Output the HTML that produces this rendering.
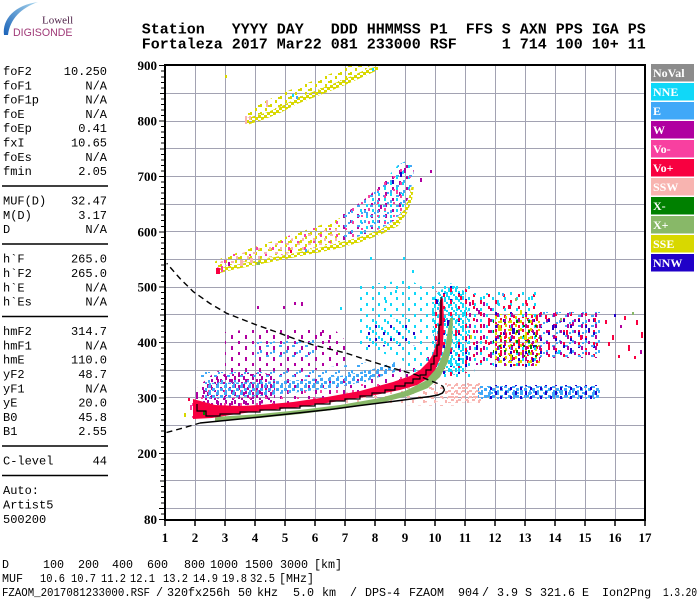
<!DOCTYPE html>
<html><head><meta charset="utf-8"><style>
html,body{margin:0;padding:0;background:#fff;width:700px;height:600px;overflow:hidden}
svg{position:absolute;left:0;top:0}
.h{font-family:"Liberation Mono",monospace;font-size:15px;font-weight:bold}
.p{font-family:"Liberation Mono",monospace;font-size:12px}
.b{font-family:"Liberation Mono",monospace;font-size:11.7px}
.ax{font-family:"Liberation Serif",serif;font-weight:bold;font-size:13px}
.lg{font-family:"Liberation Serif",serif;font-weight:bold;font-size:12px;fill:#fff}
</style></head><body>
<svg width="700" height="600" viewBox="0 0 700 600" xmlns="http://www.w3.org/2000/svg">
<defs>
<linearGradient id="arc" x1="0" y1="1" x2="1" y2="0"><stop offset="0" stop-color="#1a62b8"/><stop offset="1" stop-color="#a8d6ee"/></linearGradient>
<pattern id="yd" width="6" height="5" patternUnits="userSpaceOnUse"><g fill="#d8d800"><rect width="3" height="3"/><rect x="3" y="2" width="3" height="3"/></g></pattern>
<pattern id="ys" width="10" height="8" patternUnits="userSpaceOnUse"><g fill="#d8d800"><rect width="2" height="3"/><rect x="5" y="4" width="2" height="3"/><rect x="8" y="1" width="2" height="2"/></g></pattern>
<pattern id="mg" width="9" height="8" patternUnits="userSpaceOnUse"><g fill="#b000a0"><rect width="2" height="4"/><rect x="4" y="3" width="2" height="3"/><rect x="7" y="6" width="2" height="2"/></g></pattern>
<pattern id="mgs" width="14" height="11" patternUnits="userSpaceOnUse"><g fill="#b000a0"><rect width="2" height="3"/><rect x="7" y="5" width="2" height="4"/></g></pattern>
<pattern id="bl" width="8" height="7" patternUnits="userSpaceOnUse"><g fill="#40a8f8"><rect width="3" height="3"/><rect x="4" y="3" width="3" height="3"/><rect x="1" y="5" width="2" height="2"/></g></pattern>
<pattern id="bls" width="13" height="10" patternUnits="userSpaceOnUse"><g fill="#40a8f8"><rect width="2" height="3"/><rect x="6" y="5" width="3" height="2"/><rect x="10" y="2" width="2" height="2"/></g></pattern>
<pattern id="cy" width="7" height="8" patternUnits="userSpaceOnUse"><g fill="#10d8f8"><rect width="2" height="4"/><rect x="3" y="3" width="2" height="3"/><rect x="5" y="6" width="2" height="2"/></g></pattern>
<pattern id="cys" width="12" height="11" patternUnits="userSpaceOnUse"><g fill="#10d8f8"><rect width="2" height="3"/><rect x="6" y="6" width="2" height="3"/></g></pattern>
<pattern id="sa" width="7" height="6" patternUnits="userSpaceOnUse"><g fill="#f8b4b0"><rect width="3" height="2"/><rect x="3" y="3" width="3" height="2"/><rect x="6" y="1" width="1" height="2"/></g></pattern>
<pattern id="sas" width="11" height="9" patternUnits="userSpaceOnUse"><g fill="#f8b4b0"><rect width="3" height="2"/><rect x="5" y="4" width="2" height="3"/></g></pattern>
<pattern id="nv" width="10" height="9" patternUnits="userSpaceOnUse"><g fill="#2000c8"><rect width="2" height="3"/><rect x="5" y="4" width="2" height="4"/></g></pattern>
<pattern id="nvs" width="15" height="13" patternUnits="userSpaceOnUse"><g fill="#2000c8"><rect width="2" height="3"/><rect x="8" y="7" width="2" height="3"/></g></pattern>
<pattern id="pk" width="10" height="8" patternUnits="userSpaceOnUse"><g fill="#f840a0"><rect width="2" height="3"/><rect x="6" y="4" width="2" height="2"/></g></pattern>
<pattern id="pks" width="16" height="13" patternUnits="userSpaceOnUse"><g fill="#f840a0"><rect width="2" height="3"/><rect x="9" y="7" width="2" height="2"/></g></pattern>
<pattern id="rs" width="9" height="7" patternUnits="userSpaceOnUse"><g fill="#f80040"><rect width="2" height="3"/><rect x="5" y="3" width="2" height="3"/></g></pattern>
<pattern id="rss" width="15" height="12" patternUnits="userSpaceOnUse"><g fill="#f80040"><rect width="2" height="4"/><rect x="8" y="6" width="2" height="3"/></g></pattern>
<pattern id="gn" width="12" height="10" patternUnits="userSpaceOnUse"><g fill="#008000"><rect width="2" height="3"/><rect x="7" y="5" width="2" height="2"/></g></pattern>
</defs>

<!-- logo -->
<path d="M4,35 C2,19 15,5 38,2 C21,8 10,19 8,35 Z" fill="url(#arc)"/>
<text x="42" y="23.5" style="font-family:'Liberation Serif',serif;font-size:11px;fill:#4b1d45">Lowell</text>
<text x="13" y="36" style="font-family:'Liberation Sans',sans-serif;font-size:10.6px;fill:#a03a78">DIGISONDE</text>

<!-- header -->
<g class="h">
<text x="141.7" y="33.3">Station</text><text x="231.7" y="33.3">YYYY</text><text x="276.7" y="33.3">DAY</text><text x="330.7" y="33.3">DDD</text><text x="366.7" y="33.3">HHMMSS</text><text x="429.7" y="33.3">P1</text><text x="465.7" y="33.3">FFS</text><text x="501.7" y="33.3">S</text><text x="519.7" y="33.3">AXN</text><text x="555.7" y="33.3">PPS</text><text x="591.7" y="33.3">IGA</text><text x="627.7" y="33.3">PS</text>
<text x="141.7" y="48.7">Fortaleza</text><text x="231.7" y="48.7">2017</text><text x="276.7" y="48.7">Mar22</text><text x="330.7" y="48.7">081</text><text x="366.7" y="48.7">233000</text><text x="429.7" y="48.7">RSF</text><text x="501.7" y="48.7">1</text><text x="519.7" y="48.7">714</text><text x="555.7" y="48.7">100</text><text x="591.7" y="48.7">10+</text><text x="627.7" y="48.7">11</text>
</g>

<!-- left panel -->
<g class="p">
<text x="3" y="75">foF2</text><text x="107" y="75" text-anchor="end">10.250</text>
<text x="3" y="89.3">foF1</text><text x="107" y="89.3" text-anchor="end">N/A</text>
<text x="3" y="103.6">foF1p</text><text x="107" y="103.6" text-anchor="end">N/A</text>
<text x="3" y="117.9">foE</text><text x="107" y="117.9" text-anchor="end">N/A</text>
<text x="3" y="132.2">foEp</text><text x="107" y="132.2" text-anchor="end">0.41</text>
<text x="3" y="146.5">fxI</text><text x="107" y="146.5" text-anchor="end">10.65</text>
<text x="3" y="160.8">foEs</text><text x="107" y="160.8" text-anchor="end">N/A</text>
<text x="3" y="175.1">fmin</text><text x="107" y="175.1" text-anchor="end">2.05</text>
<text x="3" y="204.6">MUF(D)</text><text x="107" y="204.6" text-anchor="end">32.47</text>
<text x="3" y="218.9">M(D)</text><text x="107" y="218.9" text-anchor="end">3.17</text>
<text x="3" y="233.2">D</text><text x="107" y="233.2" text-anchor="end">N/A</text>
<text x="3" y="262.7">h`F</text><text x="107" y="262.7" text-anchor="end">265.0</text>
<text x="3" y="277">h`F2</text><text x="107" y="277" text-anchor="end">265.0</text>
<text x="3" y="291.3">h`E</text><text x="107" y="291.3" text-anchor="end">N/A</text>
<text x="3" y="305.6">h`Es</text><text x="107" y="305.6" text-anchor="end">N/A</text>
<text x="3" y="335.1">hmF2</text><text x="107" y="335.1" text-anchor="end">314.7</text>
<text x="3" y="349.4">hmF1</text><text x="107" y="349.4" text-anchor="end">N/A</text>
<text x="3" y="363.7">hmE</text><text x="107" y="363.7" text-anchor="end">110.0</text>
<text x="3" y="378">yF2</text><text x="107" y="378" text-anchor="end">48.7</text>
<text x="3" y="392.3">yF1</text><text x="107" y="392.3" text-anchor="end">N/A</text>
<text x="3" y="406.6">yE</text><text x="107" y="406.6" text-anchor="end">20.0</text>
<text x="3" y="420.9">B0</text><text x="107" y="420.9" text-anchor="end">45.8</text>
<text x="3" y="435.2">B1</text><text x="107" y="435.2" text-anchor="end">2.55</text>
<text x="3" y="464.7">C-level</text><text x="107" y="464.7" text-anchor="end">44</text>
<text x="3" y="494.2">Auto:</text>
<text x="3" y="508.5">Artist5</text>
<text x="3" y="522.8">500200</text>
</g>
<g stroke="#000" stroke-width="1.5">
<line x1="2" y1="186" x2="108" y2="186"/>
<line x1="2" y1="244" x2="108" y2="244"/>
<line x1="2" y1="316.5" x2="108" y2="316.5"/>
<line x1="2" y1="446" x2="108" y2="446"/>
<line x1="2" y1="475.5" x2="108" y2="475.5"/>
</g>

<!-- grid -->
<g stroke="#a2a2b2" stroke-width="1" shape-rendering="crispEdges">
<path d="M195.5,66V519 M225.5,66V519 M255.5,66V519 M285.5,66V519 M315.5,66V519 M345.5,66V519 M375.5,66V519 M405.5,66V519 M435.5,66V519 M465.5,66V519 M495.5,66V519 M525.5,66V519 M555.5,66V519 M585.5,66V519 M615.5,66V519"/>
<path d="M166,93.5H644 M166,121.5H644 M166,148.5H644 M166,176.5H644 M166,204.5H644 M166,231.5H644 M166,259.5H644 M166,287.5H644 M166,314.5H644 M166,342.5H644 M166,370.5H644 M166,397.5H644 M166,425.5H644 M166,453.5H644 M166,480.5H644 M166,508.5H644"/>
</g>

<!-- 3rd hop -->
<polygon fill="url(#ys)" points="247,118 265,113 280,107 297,98 320,89 345,79 365,70 370,66 348,66 330,74 310,82 290,90 270,99 255,106 247,110"/>
<polygon fill="url(#yd)" points="247,118 265,113 280,107 297,98 320,89 345,79 365,70 378,66 378,70 365,76 345,85 320,95 297,104 280,113 265,119 247,125"/>
<g>
<rect x="245" y="116" width="2" height="8" fill="#f8b4b0"/><rect x="249" y="116" width="2" height="4" fill="#f8b4b0"/><rect x="266" y="100" width="2" height="7" fill="#f8b4b0"/><rect x="292" y="94" width="2" height="3" fill="#10d8f8"/><rect x="296" y="96" width="2" height="3" fill="#40a8f8"/><rect x="225" y="75" width="2" height="3" fill="#d8d800"/><rect x="372" y="68" width="2" height="3" fill="#10d8f8"/>
</g>

<!-- 2nd hop -->
<polygon fill="url(#ys)" points="216,268 235,264 260,259 285,254 310,249 335,243 340,242 340,218 330,222 300,232 270,242 245,250 222,258 214,262"/>
<polygon fill="url(#sas)" points="216,268 235,264 260,259 285,254 310,249 335,243 340,242 340,226 300,236 270,245 245,252 222,260"/>
<polygon fill="url(#pks)" points="216,268 235,264 260,259 285,254 310,249 335,243 340,242 340,220 300,232 270,242 245,250 222,258"/>
<polygon fill="url(#mgs)" points="340,242 360,236 380,229 395,220 404,209 409,196 412,184 414,168 408,160 398,165 385,180 370,195 350,210 340,216"/>
<polygon fill="url(#bls)" points="340,242 360,236 380,229 395,220 404,209 409,196 412,184 414,168 408,160 398,165 385,180 370,195 350,210 340,216"/>
<polygon fill="url(#cys)" points="360,236 380,229 395,220 404,209 409,196 412,184 414,168 408,160 398,165 385,180 370,195 360,205"/>
<polygon fill="url(#pks)" points="340,242 380,229 404,209 412,184 408,162 385,180 350,210"/>
<polygon fill="url(#yd)" points="216,269 235,265 260,260 285,255 310,250 335,244 360,237 380,230 395,221 404,210 409,197 412,185 414,186 412,200 407,213 398,226 382,234 361,242 336,249 311,254 286,259 261,264 236,269 216,274"/>
<g>
<rect x="216" y="268" width="4" height="6" fill="#f80040"/><rect x="221" y="266" width="2" height="6" fill="#f840a0"/><rect x="240" y="260" width="3" height="6" fill="#f8b4b0"/><rect x="250" y="258" width="3" height="5" fill="#f8b4b0"/><rect x="257" y="262" width="3" height="3" fill="#88b868"/><rect x="228" y="262" width="2" height="4" fill="#b000a0"/><rect x="290" y="250" width="2" height="3" fill="#f80040"/><rect x="305" y="249" width="2" height="3" fill="#40a8f8"/><rect x="420" y="178" width="2" height="4" fill="#b000a0"/><rect x="430" y="170" width="2" height="3" fill="#b000a0"/><rect x="400" y="172" width="2" height="5" fill="#2000c8"/><rect x="392" y="180" width="2" height="4" fill="#2000c8"/><rect x="404" y="168" width="2" height="5" fill="#b000a0"/><rect x="396" y="190" width="2" height="4" fill="#f840a0"/><rect x="380" y="205" width="2" height="4" fill="#b000a0"/><rect x="366" y="212" width="2" height="4" fill="#40a8f8"/>
</g>

<!-- magenta near trace -->
<polygon fill="url(#mgs)" points="192,395 200,385 215,372 240,365 270,368 300,374 330,378 360,378 390,372 420,362 432,352 436,370 425,382 400,388 370,395 340,400 300,405 260,409 230,413 205,418 192,418"/>
<polygon fill="url(#mg)" points="200,388 215,376 240,372 275,374 275,402 240,406 205,412"/>
<polygon fill="url(#pks)" points="192,395 215,380 260,385 320,385 380,382 420,372 420,386 360,396 300,404 240,410 192,418"/>
<!-- mid cluster -->
<polygon fill="url(#mgs)" points="225,332 260,328 300,330 335,330 350,345 345,366 300,372 260,370 225,372"/>
<polygon fill="url(#bls)" points="255,342 315,340 318,358 255,360"/>
<g>
<rect x="257" y="306" width="2" height="3" fill="#b000a0"/><rect x="283" y="306" width="2" height="3" fill="#b000a0"/><rect x="294" y="302" width="2" height="3" fill="#b000a0"/><rect x="301" y="302" width="2" height="4" fill="#b000a0"/><rect x="340" y="307" width="2" height="3" fill="#10d8f8"/><rect x="320" y="332" width="2" height="4" fill="#b000a0"/><rect x="328" y="340" width="2" height="3" fill="#b000a0"/>
</g>
<!-- E band -->
<polygon fill="url(#bl)" points="205,383 260,382 300,380 340,376 370,370 395,362 395,372 370,380 340,387 300,392 260,396 205,399"/>
<polygon fill="url(#bls)" points="200,372 260,372 300,370 340,366 370,362 370,370 340,376 300,380 260,382 200,383"/>
<rect x="360" y="371" width="12" height="11" fill="url(#bls)"/>

<!-- cyan sparse region -->
<polygon fill="url(#cys)" points="358,285 410,280 428,290 430,355 415,360 395,356 375,352 360,350"/>
<polygon fill="url(#cys)" points="366,318 405,316 408,345 366,346" transform="translate(3,2)"/>
<polygon fill="url(#cys)" points="400,292 416,292 434,300 434,370 414,372 402,360"/>
<polygon fill="url(#nvs)" points="368,325 420,322 420,345 368,347"/>
<g>
<rect x="370" y="257" width="2" height="3" fill="#10d8f8"/><rect x="403" y="257" width="2" height="3" fill="#10d8f8"/><rect x="395" y="290" width="2" height="3" fill="#10d8f8"/><rect x="385" y="300" width="2" height="3" fill="#10d8f8"/><rect x="412" y="270" width="2" height="3" fill="#10d8f8"/>
</g>

<!-- salmon -->
<polygon fill="url(#sas)" points="338,393 380,390 420,385 445,383 480,383 482,404 445,406 400,405 360,404 338,402"/>
<polygon fill="url(#sa)" points="447,384 481,384 481,402 447,403"/>
<polygon fill="url(#sas)" points="418,388 440,386 442,400 418,402" transform="translate(2,1)"/>

<!-- spread-F cluster -->
<polygon fill="url(#cy)" points="432,300 440,290 455,286 466,292 469,330 467,370 455,375 441,372 434,360"/>
<polygon fill="url(#cys)" points="425,290 440,282 470,286 476,320 474,378 430,380"/>
<polygon fill="url(#nvs)" points="430,298 440,288 455,284 468,290 471,330 469,372 455,377 440,374 432,360"/>
<polygon fill="url(#rss)" points="430,298 440,288 455,284 468,290 471,330 469,372 455,377 440,374 432,360"/>
<g>
<rect x="432" y="310" width="2" height="6" fill="#10d8f8"/><rect x="436" y="300" width="2" height="4" fill="#2000c8"/><rect x="446" y="292" width="2" height="5" fill="#10d8f8"/><rect x="452" y="286" width="2" height="3" fill="#10d8f8"/><rect x="460" y="296" width="2" height="4" fill="#f80040"/><rect x="464" y="310" width="2" height="6" fill="#10d8f8"/><rect x="447" y="320" width="3" height="6" fill="#2000c8"/><rect x="455" y="330" width="2" height="6" fill="#f80040"/><rect x="462" y="345" width="2" height="6" fill="#10d8f8"/><rect x="440" y="350" width="2" height="5" fill="#b000a0"/><rect x="450" y="360" width="2" height="6" fill="#10d8f8"/><rect x="458" y="368" width="2" height="4" fill="#10d8f8"/><rect x="466" y="356" width="2" height="4" fill="#2000c8"/>
</g>

<!-- right scatter -->
<polygon fill="url(#rss)" points="467,293 493,293 493,365 467,365"/>
<polygon fill="url(#mgs)" points="467,300 493,300 493,365 467,365"/>
<polygon fill="url(#cys)" points="467,293 493,293 493,365 467,365"/>
<polygon fill="url(#rss)" points="493,292 540,292 540,312 493,312"/>
<polygon fill="url(#cys)" points="493,292 540,292 540,312 493,312"/>
<polygon fill="url(#rs)" points="493,314 540,314 540,366 493,366"/>
<polygon fill="url(#ys)" points="493,314 540,314 540,366 493,366"/>
<polygon fill="url(#nvs)" points="493,312 540,312 540,368 493,368"/>
<polygon fill="url(#cys)" points="493,312 540,312 540,368 493,368"/>
<polygon fill="url(#gn)" points="493,318 540,318 540,360 493,360"/>
<polygon fill="url(#mgs)" points="493,312 540,312 540,368 493,368"/>
<polygon fill="url(#rss)" points="540,310 600,310 600,360 540,360"/>
<polygon fill="url(#nvs)" points="540,315 600,315 600,355 540,355"/>
<polygon fill="url(#bls)" points="540,312 600,312 600,358 540,358"/>
<polygon fill="url(#mgs)" points="540,312 600,312 600,358 540,358"/>
<g>
<rect x="472" y="300" width="2" height="5" fill="#f80040"/><rect x="478" y="310" width="2" height="4" fill="#b000a0"/><rect x="483" y="296" width="2" height="3" fill="#10d8f8"/><rect x="488" y="320" width="2" height="6" fill="#f80040"/><rect x="470" y="335" width="2" height="4" fill="#d8d800"/><rect x="476" y="345" width="2" height="5" fill="#2000c8"/><rect x="485" y="340" width="2" height="4" fill="#f80040"/><rect x="490" y="355" width="2" height="3" fill="#b000a0"/>
<rect x="497" y="300" width="2" height="5" fill="#10d8f8"/><rect x="502" y="293" width="2" height="3" fill="#40a8f8"/><rect x="508" y="305" width="3" height="4" fill="#f80040"/><rect x="515" y="298" width="2" height="3" fill="#88b868"/><rect x="520" y="310" width="2" height="5" fill="#d8d800"/><rect x="526" y="303" width="2" height="3" fill="#f80040"/><rect x="531" y="296" width="2" height="4" fill="#10d8f8"/><rect x="536" y="315" width="2" height="4" fill="#f80040"/>
<rect x="498" y="325" width="3" height="6" fill="#d8d800"/><rect x="505" y="333" width="2" height="5" fill="#f80040"/><rect x="512" y="328" width="3" height="6" fill="#2000c8"/><rect x="518" y="340" width="2" height="6" fill="#f80040"/><rect x="524" y="335" width="3" height="5" fill="#d8d800"/><rect x="530" y="345" width="2" height="4" fill="#008000"/><rect x="536" y="330" width="2" height="5" fill="#f80040"/><rect x="500" y="350" width="2" height="6" fill="#f80040"/><rect x="510" y="355" width="2" height="5" fill="#d8d800"/><rect x="522" y="352" width="2" height="6" fill="#b000a0"/><rect x="532" y="358" width="2" height="4" fill="#2000c8"/>
<rect x="545" y="315" width="2" height="4" fill="#f80040"/><rect x="552" y="325" width="2" height="5" fill="#2000c8"/><rect x="560" y="318" width="2" height="3" fill="#88b868"/><rect x="566" y="330" width="2" height="5" fill="#f80040"/><rect x="572" y="322" width="2" height="4" fill="#b000a0"/><rect x="580" y="335" width="2" height="5" fill="#f80040"/><rect x="588" y="328" width="2" height="4" fill="#2000c8"/><rect x="594" y="318" width="2" height="4" fill="#f80040"/><rect x="548" y="345" width="2" height="5" fill="#f80040"/><rect x="558" y="350" width="2" height="4" fill="#10d8f8"/><rect x="570" y="348" width="2" height="5" fill="#2000c8"/><rect x="585" y="352" width="2" height="3" fill="#f80040"/><rect x="596" y="343" width="2" height="3" fill="#f80040"/>
<rect x="605" y="320" width="2" height="4" fill="#f80040"/><rect x="612" y="335" width="2" height="5" fill="#f80040"/><rect x="620" y="325" width="2" height="3" fill="#b000a0"/><rect x="628" y="345" width="2" height="6" fill="#f80040"/><rect x="636" y="320" width="2" height="5" fill="#f80040"/><rect x="641" y="332" width="2" height="6" fill="#f80040"/><rect x="640" y="350" width="2" height="4" fill="#b000a0"/><rect x="618" y="355" width="2" height="3" fill="#f80040"/><rect x="632" y="312" width="2" height="3" fill="#88b868"/><rect x="608" y="342" width="2" height="4" fill="#f80040"/><rect x="624" y="316" width="2" height="4" fill="#f80040"/><rect x="634" y="356" width="2" height="3" fill="#f80040"/><rect x="614" y="314" width="2" height="3" fill="#2000c8"/><rect x="644" y="322" width="1" height="4" fill="#f80040"/>
</g>

<!-- bottom E band f 11.5-15.3 -->
<polygon fill="url(#bl)" points="478,386 600,386 600,399 478,399"/>
<polygon fill="url(#bls)" points="478,386 600,386 600,399 478,399"/>
<polygon fill="url(#nv)" points="490,385 600,385 600,400 490,400"/>

<!-- X+ band -->
<polygon fill="#88b868" points="215,417 260,414 300,410 340,405 380,398 405,391 425,381 438,366 445,348 448,330 450,318 453,318 452,342 448,362 440,377 428,388 408,396 380,403 340,409 300,414 260,418 215,421"/>
<!-- Vo+ red band -->
<polygon fill="#f80040" points="193,399 215,405 240,406 260,405 293,402 327,397 360,391 393,382 410,376 420,370 428,362 433,354 437,341 439,320 440,300 443,298 444,320 443,345 440,359 435,370 427,379 417,385 400,390 370,396 340,401 300,407 260,411 230,415 212,418 193,419"/>
<g>
<rect x="184" y="413" width="2" height="4" fill="#d8d800"/><rect x="203" y="411" width="2" height="4" fill="#008000"/><rect x="190" y="405" width="2" height="5" fill="#f840a0"/><rect x="196" y="392" width="2" height="5" fill="#b000a0"/><rect x="188" y="398" width="2" height="3" fill="#f80040"/>
</g>

<!-- black trace -->
<path d="M197,404 L197,411 L206,411 L206,416 L220,416 L220,414 L240,414 L240,412 L260,412 L260,410 L280,410 L280,408 L300,408 L300,406 L315,406 L315,404 L330,404 L330,401 L345,401 L345,399 L360,399 L360,396 L372,396 L372,393 L385,393 L385,390 L395,390 L395,386 L405,386 L405,383 L413,383 L413,379 L420,379 L420,375 L426,375 L426,370 L431,370 L431,364 L434,364 L434,356 L437,356 L437,345 L439,345 L439,325 L441,325 L441,297" fill="none" stroke="#000" stroke-width="1.2"/>

<!-- profile curves -->
<polyline points="200,423 230,420 260,417 293,413.5 330,409.5 360,405.5 400,400.5 420,397.8 430,396.5 438,395 442.5,393 444.5,390" fill="none" stroke="#000" stroke-width="1.5"/>
<polyline points="444.5,390 443,386.5 439,384 430,380.5 416.7,375 393.3,368.3 370,361 346.7,353.3 313.3,345 293.3,338.3 275,331.5 256.7,325 226.7,313.3 210,303.5 193.3,291.7 180,278.5 166.7,263.3" fill="none" stroke="#000" stroke-width="1.4" stroke-dasharray="6,4"/>
<polyline points="166.5,432.5 183,428 200,423" fill="none" stroke="#000" stroke-width="1.4" stroke-dasharray="6,4"/>

<!-- frame & axes -->
<rect x="165" y="65" width="480" height="455" fill="none" stroke="#000" stroke-width="2"/>
<path stroke="#000" stroke-width="1" fill="none" shape-rendering="crispEdges" d="M159,65.5h6 M161,71h4 M161,77h4 M161,82.5h4 M161,88h4 M160,93.5h5 M161,99h4 M161,104.5h4 M161,110h4 M161,115.5h4 M159,121h6 M161,126.5h4 M161,132h4 M161,137.5h4 M161,143h4 M160,149h5 M161,154.5h4 M161,160h4 M161,165.5h4 M161,171h4 M159,176.5h6 M161,182h4 M161,187.5h4 M161,193h4 M161,198.5h4 M160,204h5 M161,209.5h4 M161,215h4 M161,220.5h4 M161,226.5h4 M159,232h6 M161,237.5h4 M161,243h4 M161,248.5h4 M161,254h4 M160,259.5h5 M161,265h4 M161,270.5h4 M161,276h4 M161,281.5h4 M159,287h6 M161,292.5h4 M161,298.5h4 M161,304h4 M161,309.5h4 M160,315h5 M161,320.5h4 M161,326h4 M161,331.5h4 M161,337h4 M159,342.5h6 M161,348h4 M161,353.5h4 M161,359h4 M161,364.5h4 M160,370h5 M161,376h4 M161,381.5h4 M161,387h4 M161,392.5h4 M159,398h6 M161,403.5h4 M161,409h4 M161,414.5h4 M161,420h4 M160,425.5h5 M161,431h4 M161,436.5h4 M161,442h4 M161,447.5h4 M159,453.5h6 M161,459h4 M161,464.5h4 M161,470h4 M161,475.5h4 M160,481h5 M161,486.5h4 M161,492h4 M161,497.5h4 M161,503h4 M159,508.5h6 M161,514h4 M159,519.5h6"/>
<path stroke="#000" stroke-width="1.5" d="M165,520v6 M195,520v6 M225,520v6 M255,520v6 M285,520v6 M315,520v6 M345,520v6 M375,520v6 M405,520v6 M435,520v6 M465,520v6 M495,520v6 M525,520v6 M555,520v6 M585,520v6 M615,520v6 M645,520v6"/>

<g class="ax" text-anchor="end">
<text x="157" y="70.2">900</text><text x="157" y="125.5">800</text><text x="157" y="180.9">700</text><text x="157" y="236.3">600</text><text x="157" y="291.7">500</text><text x="157" y="347">400</text><text x="157" y="402.4">300</text><text x="157" y="457.8">200</text><text x="157" y="524.2">80</text>
</g>
<g class="ax" text-anchor="middle">
<text x="165" y="542">1</text><text x="195" y="542">2</text><text x="225" y="542">3</text><text x="255" y="542">4</text><text x="285" y="542">5</text><text x="315" y="542">6</text><text x="345" y="542">7</text><text x="375" y="542">8</text><text x="405" y="542">9</text><text x="435" y="542">10</text><text x="465" y="542">11</text><text x="495" y="542">12</text><text x="525" y="542">13</text><text x="555" y="542">14</text><text x="585" y="542">15</text><text x="615" y="542">16</text><text x="645" y="542">17</text>
</g>

<!-- legend -->
<g>
<rect x="651" y="64" width="43" height="17.5" fill="#8c8c8c"/>
<rect x="651" y="83" width="43" height="17.5" fill="#10d8f8"/>
<rect x="651" y="102" width="43" height="17.5" fill="#40a8f8"/>
<rect x="651" y="121" width="43" height="17.5" fill="#b000a0"/>
<rect x="651" y="140" width="43" height="17.5" fill="#f840a0"/>
<rect x="651" y="159" width="43" height="17.5" fill="#f80040"/>
<rect x="651" y="178" width="43" height="17.5" fill="#f8b4b0"/>
<rect x="651" y="197" width="43" height="17.5" fill="#008000"/>
<rect x="651" y="216" width="43" height="17.5" fill="#88b868"/>
<rect x="651" y="235" width="43" height="17.5" fill="#d8d800"/>
<rect x="651" y="254" width="43" height="17.5" fill="#2000c8"/>
</g>
<g class="lg">
<text x="653" y="77">NoVal</text><text x="653" y="96">NNE</text><text x="653" y="115">E</text><text x="653" y="134">W</text><text x="653" y="153">Vo-</text><text x="653" y="172">Vo+</text><text x="653" y="191">SSW</text><text x="653" y="210">X-</text><text x="653" y="229">X+</text><text x="653" y="248">SSE</text><text x="653" y="267">NNW</text>
</g>

<!-- bottom text -->
<g class="b">
<text x="2" y="568">D</text><text x="43" y="568">100</text><text x="78" y="568">200</text><text x="112" y="568">400</text><text x="147" y="568">600</text><text x="184" y="568">800</text><text x="210" y="568">1000</text><text x="245" y="568">1500</text><text x="280" y="568">3000</text><text x="314" y="568">[km]</text>
<text x="2" y="582">MUF</text><text x="40" y="582" textLength="25" lengthAdjust="spacingAndGlyphs">10.6</text><text x="71" y="582" textLength="25" lengthAdjust="spacingAndGlyphs">10.7</text><text x="101" y="582" textLength="25" lengthAdjust="spacingAndGlyphs">11.2</text><text x="130" y="582" textLength="25" lengthAdjust="spacingAndGlyphs">12.1</text><text x="163" y="582" textLength="25" lengthAdjust="spacingAndGlyphs">13.2</text><text x="193" y="582" textLength="25" lengthAdjust="spacingAndGlyphs">14.9</text><text x="222" y="582" textLength="25" lengthAdjust="spacingAndGlyphs">19.8</text><text x="250" y="582" textLength="25" lengthAdjust="spacingAndGlyphs">32.5</text><text x="279" y="582">[MHz]</text>
<text x="2" y="596" textLength="148" lengthAdjust="spacingAndGlyphs">FZAOM_2017081233000.RSF</text><text x="156" y="596">/</text><text x="167" y="596">320fx256h</text><text x="238" y="596">50</text><text x="257" y="596">kHz</text><text x="293" y="596">5.0</text><text x="322" y="596">km</text><text x="350" y="596">/</text><text x="365" y="596">DPS-4</text><text x="409" y="596">FZAOM</text><text x="458" y="596">904</text><text x="482" y="596">/</text><text x="497" y="596">3.9</text><text x="525" y="596">S</text><text x="540" y="596">321.6</text><text x="582" y="596">E</text><text x="602" y="596">Ion2Png</text><text x="663" y="596" textLength="34" lengthAdjust="spacingAndGlyphs">1.3.20</text>
</g>
</svg>
</body></html>
